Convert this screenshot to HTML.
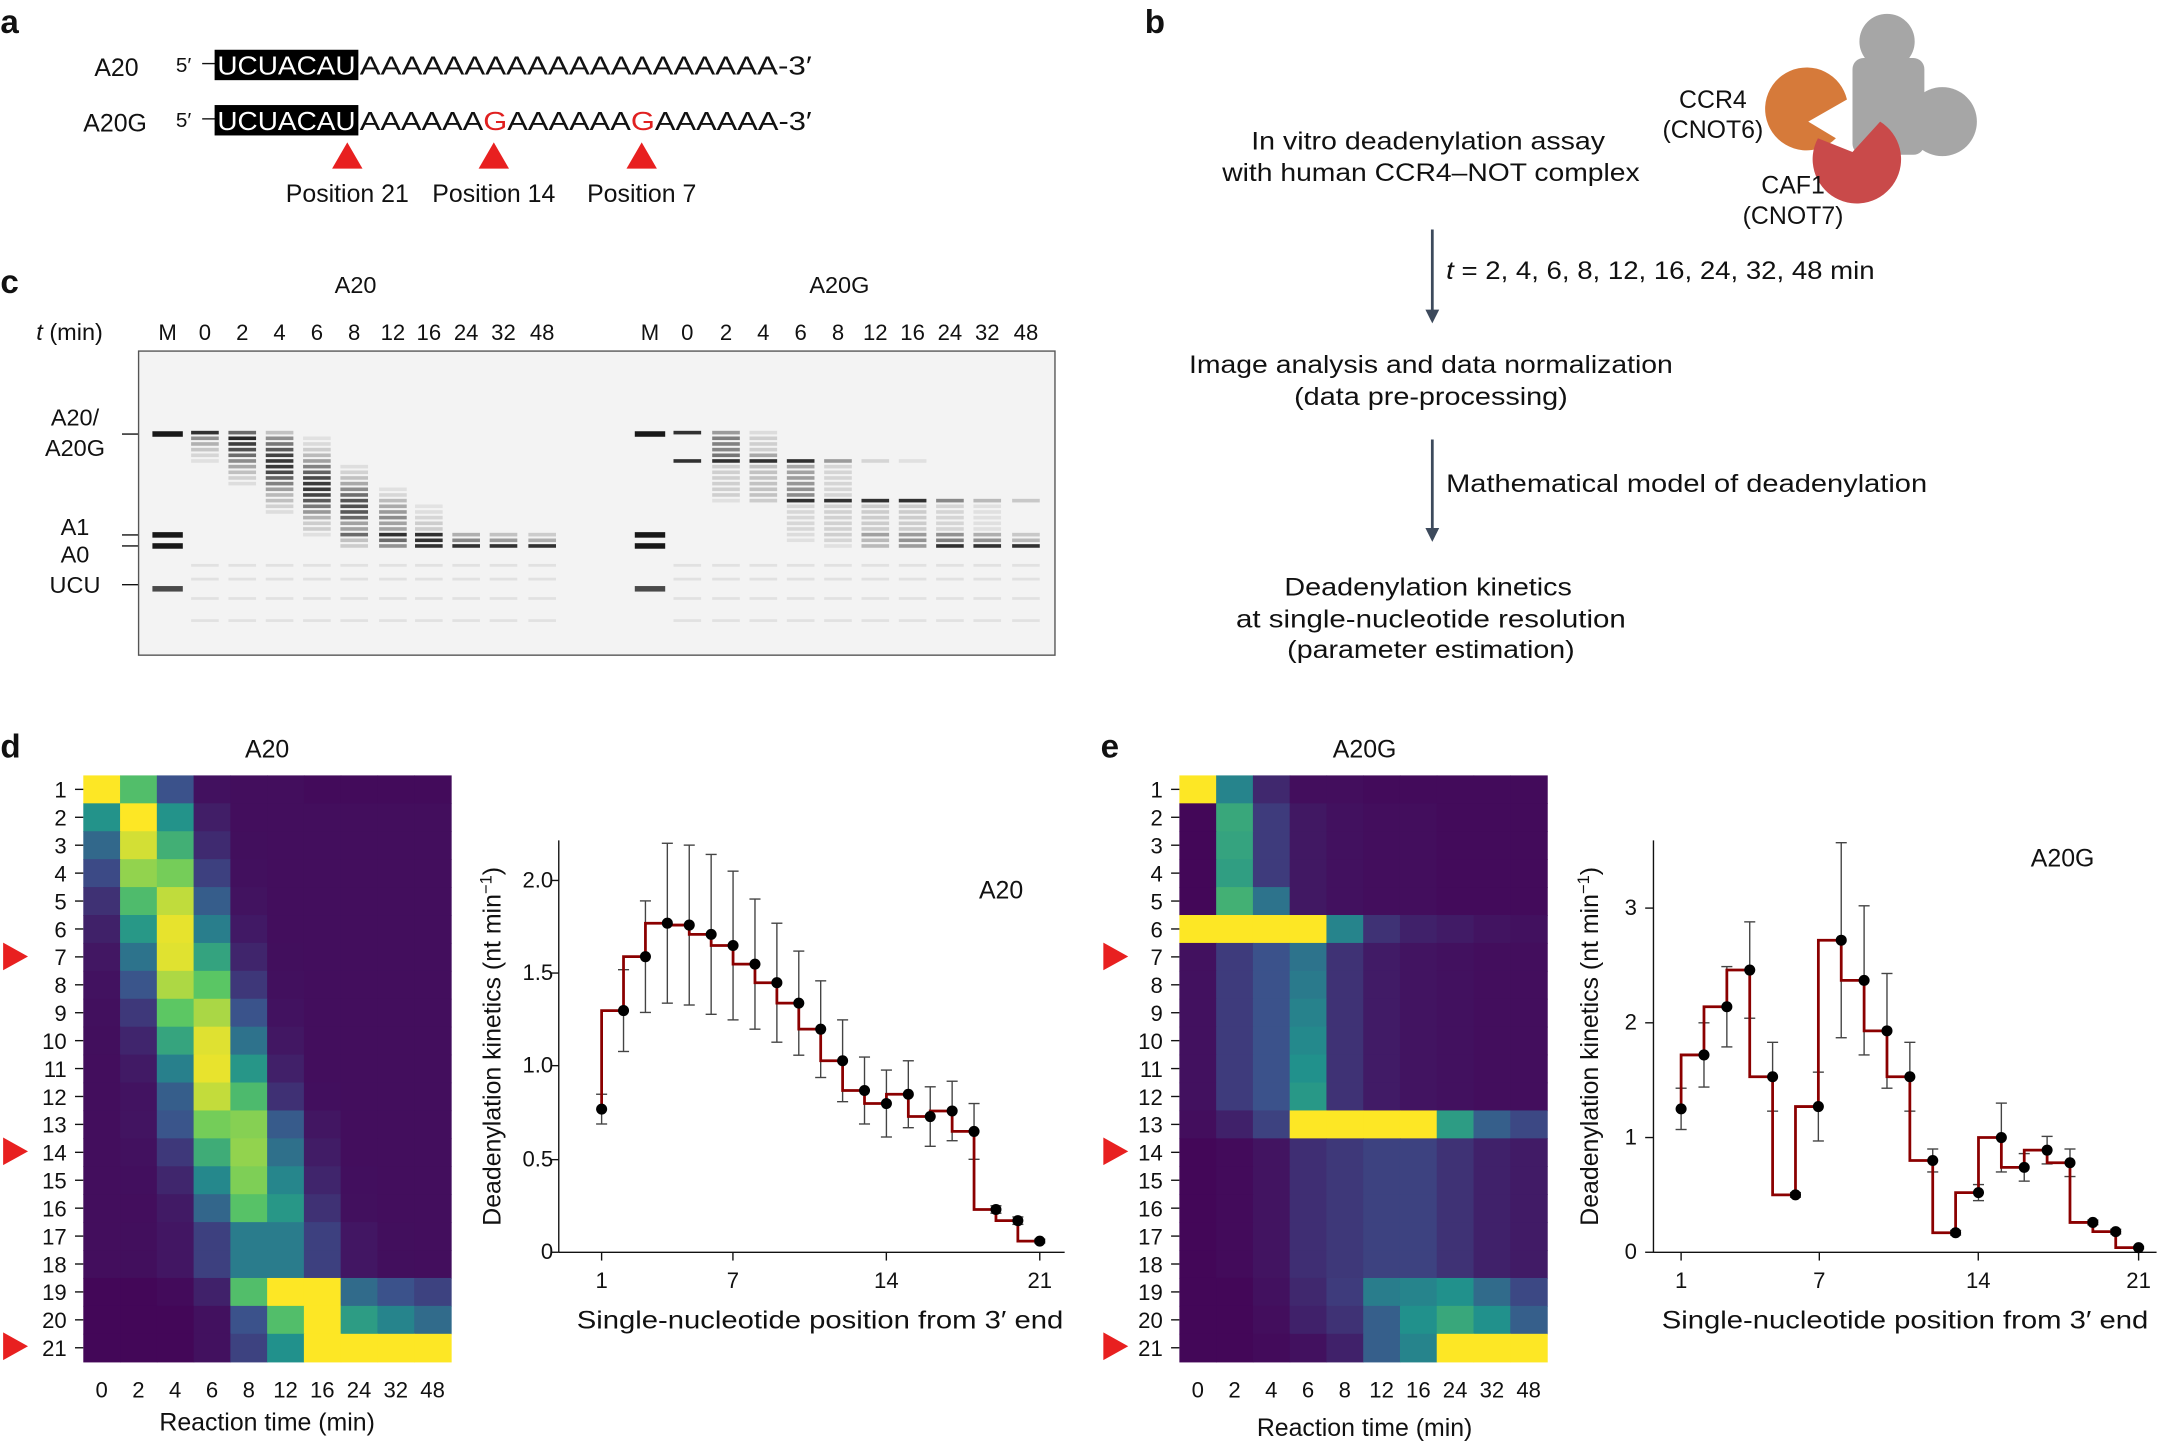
<!DOCTYPE html>
<html><head><meta charset="utf-8">
<style>
html,body{margin:0;padding:0;background:#fff;}
svg{display:block;font-family:"Liberation Sans",sans-serif;}
</style></head>
<body>
<svg id="s" width="2168" height="1443" viewBox="0 0 1568 1044" xmlns="http://www.w3.org/2000/svg">
<rect width="1568" height="1044" fill="#fff"/>
<!-- panel a -->
<g font-size="18" fill="#111">
<text x="0" y="24" font-size="24" font-weight="bold">a</text>
<text x="68" y="55">A20</text>
<text x="127" y="52" font-size="15">5′</text>
<line x1="146" y1="46" x2="156" y2="46" stroke="#111"/>
<rect x="155" y="36" width="104" height="22" fill="#000"/>
<text x="157" y="54" fill="#fff" font-size="19" textLength="100" lengthAdjust="spacingAndGlyphs">UCUACAU</text>
<text x="260" y="54" font-size="19" textLength="327" lengthAdjust="spacingAndGlyphs">AAAAAAAAAAAAAAAAAAAA-3′</text>
<text x="60" y="95">A20G</text>
<text x="127" y="92" font-size="15">5′</text>
<line x1="146" y1="86" x2="156" y2="86" stroke="#111"/>
<rect x="155" y="76" width="104" height="22" fill="#000"/>
<text x="157" y="94" fill="#fff" font-size="19" textLength="100" lengthAdjust="spacingAndGlyphs">UCUACAU</text>
<text x="260" y="94" font-size="19" textLength="327" lengthAdjust="spacingAndGlyphs">AAAAAA<tspan fill="#e02020">G</tspan>AAAAAA<tspan fill="#e02020">G</tspan>AAAAAA-3′</text>
<polygon points="240,122 262,122 251,103" fill="#e82020"/>
<polygon points="346,122 368,122 357,103" fill="#e82020"/>
<polygon points="453,122 475,122 464,103" fill="#e82020"/>
<text x="251" y="146" text-anchor="middle">Position 21</text>
<text x="357" y="146" text-anchor="middle">Position 14</text>
<text x="464" y="146" text-anchor="middle">Position 7</text>
</g>
<!-- panel b -->
<g font-size="18" fill="#111">
<text x="828" y="24" font-size="24" font-weight="bold">b</text>
<text x="1033" y="108" text-anchor="middle" textLength="256" lengthAdjust="spacingAndGlyphs">In vitro deadenylation assay</text>
<text x="1035" y="131" text-anchor="middle" textLength="302" lengthAdjust="spacingAndGlyphs">with human CCR4–NOT complex</text>
<text x="1239" y="78" text-anchor="middle">CCR4</text>
<text x="1239" y="100" text-anchor="middle">(CNOT6)</text>
<circle cx="1365" cy="30" r="20" fill="#a6a6a6"/>
<rect x="1340" y="42" width="52" height="70" rx="8" fill="#a6a6a6"/>
<circle cx="1405" cy="88" r="25" fill="#a6a6a6"/>
<path d="M1336,72 A30,30 0 1 0 1328,100 L1308,88 Z" fill="#d67a3a"/>
<path d="M1315,100 A32,32 0 1 0 1360,88 L1340,110 Z" fill="#c94a4a"/>
<text x="1297" y="140" text-anchor="middle">CAF1</text>
<text x="1297" y="162" text-anchor="middle">(CNOT7)</text>
<line x1="1036" y1="166" x2="1036" y2="226" stroke="#3d4a5c" stroke-width="2"/>
<polygon points="1031,224 1041,224 1036,234" fill="#3d4a5c"/>
<text x="1046" y="202" textLength="310" lengthAdjust="spacingAndGlyphs"><tspan font-style="italic">t</tspan> = 2, 4, 6, 8, 12, 16, 24, 32, 48 min</text>
<text x="1035" y="270" text-anchor="middle" textLength="350" lengthAdjust="spacingAndGlyphs">Image analysis and data normalization</text>
<text x="1035" y="293" text-anchor="middle" textLength="198" lengthAdjust="spacingAndGlyphs">(data pre-processing)</text>
<line x1="1036" y1="318" x2="1036" y2="384" stroke="#3d4a5c" stroke-width="2"/>
<polygon points="1031,382 1041,382 1036,392" fill="#3d4a5c"/>
<text x="1046" y="356" textLength="348" lengthAdjust="spacingAndGlyphs">Mathematical model of deadenylation</text>
<text x="1033" y="431" text-anchor="middle" textLength="208" lengthAdjust="spacingAndGlyphs">Deadenylation kinetics</text>
<text x="1035" y="454" text-anchor="middle" textLength="282" lengthAdjust="spacingAndGlyphs">at single-nucleotide resolution</text>
<text x="1035" y="476" text-anchor="middle" textLength="208" lengthAdjust="spacingAndGlyphs">(parameter estimation)</text>
</g>
<!-- panel c -->
<g font-size="17" fill="#111">
<text x="0" y="212" font-size="24" font-weight="bold">c</text>
<text x="257" y="212" text-anchor="middle">A20</text>
<text x="607" y="212" text-anchor="middle">A20G</text>
<text x="26" y="246"><tspan font-style="italic">t</tspan> (min)</text>
<g text-anchor="middle" font-size="16">
<text x="121" y="246">M</text><text x="148" y="246">0</text><text x="175" y="246">2</text><text x="202" y="246">4</text><text x="229" y="246">6</text><text x="256" y="246">8</text><text x="284" y="246">12</text><text x="310" y="246">16</text><text x="337" y="246">24</text><text x="364" y="246">32</text><text x="392" y="246">48</text>
<text x="470" y="246">M</text><text x="497" y="246">0</text><text x="525" y="246">2</text><text x="552" y="246">4</text><text x="579" y="246">6</text><text x="606" y="246">8</text><text x="633" y="246">12</text><text x="660" y="246">16</text><text x="687" y="246">24</text><text x="714" y="246">32</text><text x="742" y="246">48</text>
</g>
<text x="54" y="308" text-anchor="middle">A20/</text>
<text x="54" y="330" text-anchor="middle">A20G</text>
<text x="54" y="387" text-anchor="middle">A1</text>
<text x="54" y="407" text-anchor="middle">A0</text>
<text x="54" y="429" text-anchor="middle">UCU</text>
<g stroke="#111"><line x1="88" y1="314" x2="100" y2="314"/><line x1="88" y1="387" x2="100" y2="387"/><line x1="88" y1="395" x2="100" y2="395"/><line x1="88" y1="423" x2="100" y2="423"/></g>
<rect x="100" y="254" width="663" height="220" fill="#f3f3f3" stroke="#555" stroke-width="1"/>
<g id="gel"></g>
</g>
<!-- panel d -->
<g font-size="16" fill="#111">
<text x="0" y="548" font-size="24" font-weight="bold">d</text>
<text x="193" y="548" text-anchor="middle" font-size="18">A20</text>
<g id="hm1"></g>
<g id="rl1" text-anchor="end"></g>
<g text-anchor="middle" font-size="16" id="xl1"></g>
<text x="193" y="1035" text-anchor="middle" font-size="18">Reaction time (min)</text>
<polygon points="2,682 20,692 2,702" fill="#e82020"/>
<polygon points="2,823 20,833 2,843" fill="#e82020"/>
<polygon points="2,964 20,974 2,984" fill="#e82020"/>
</g>
<!-- panel e -->
<g font-size="16" fill="#111">
<text x="796" y="548" font-size="24" font-weight="bold">e</text>
<text x="987" y="548" text-anchor="middle" font-size="18">A20G</text>
<g id="hm2"></g>
<g id="rl2" text-anchor="end"></g>
<g text-anchor="middle" font-size="16" id="xl2"></g>
<text x="987" y="1039" text-anchor="middle" font-size="18">Reaction time (min)</text>
<polygon points="798,682 816,692 798,702" fill="#e82020"/>
<polygon points="798,823 816,833 798,843" fill="#e82020"/>
<polygon points="798,964 816,974 798,984" fill="#e82020"/>
</g>
<!-- line plots -->
<g font-size="16" fill="#111">
<text transform="translate(362,757) rotate(-90)" text-anchor="middle" font-size="18">Deadenylation kinetics (nt min<tspan baseline-shift="super" font-size="12">−1</tspan>)</text>
<text x="593" y="961" text-anchor="middle" font-size="18" textLength="352" lengthAdjust="spacingAndGlyphs">Single-nucleotide position from 3′ end</text>
<text x="724" y="650" text-anchor="middle" font-size="18">A20</text>
<g text-anchor="end"><text x="400" y="911">0</text><text x="400" y="844">0.5</text><text x="400" y="776">1.0</text><text x="400" y="709">1.5</text><text x="400" y="642">2.0</text></g>
<g text-anchor="middle"><text x="435" y="932">1</text><text x="530" y="932">7</text><text x="641" y="932">14</text><text x="752" y="932">21</text></g>
<g id="p1"></g>
<text transform="translate(1156,757) rotate(-90)" text-anchor="middle" font-size="18">Deadenylation kinetics (nt min<tspan baseline-shift="super" font-size="12">−1</tspan>)</text>
<text x="1378" y="961" text-anchor="middle" font-size="18" textLength="352" lengthAdjust="spacingAndGlyphs">Single-nucleotide position from 3′ end</text>
<text x="1492" y="627" text-anchor="middle" font-size="18">A20G</text>
<g text-anchor="end"><text x="1184" y="911">0</text><text x="1184" y="828">1</text><text x="1184" y="745">2</text><text x="1184" y="662">3</text></g>
<g text-anchor="middle"><text x="1216" y="932">1</text><text x="1316" y="932">7</text><text x="1431" y="932">14</text><text x="1547" y="932">21</text></g>
<g id="p2"></g>
</g>
<script>
var NS="http://www.w3.org/2000/svg";
function el(p,t,a){var e=document.createElementNS(NS,t);for(var k in a)e.setAttribute(k,a[k]);p.appendChild(e);return e;}
var stops=[[68,1,84],[59,82,139],[33,145,140],[94,201,98],[253,231,37]];
function vir(v){v=Math.max(0,Math.min(1,v));var f=v*4,i=Math.min(3,Math.floor(f)),t=f-i;var a=stops[i],b=stops[i+1];return "rgb("+[0,1,2].map(function(j){return Math.round(a[j]+(b[j]-a[j])*t)}).join(",")+")";}
function H1(r,c){
 if(r==1){return [1,0.7,0.25,0.05,0.04,0.04,0.03,0.03,0.03,0.03][c];}
 var p,w=1.15,m=1;
 if(r<=16){p=1+(r-2)*0.23;m=r==2?1:(r<=12?0.93:0.88-(r-13)*0.06);if(r>=13)w=1.3;}
 else if(r<=18){p=4.5;m=0.42;w=1.5;}
 else if(r==19){return [0.02,0.02,0.03,0.1,0.7,1,1,0.35,0.25,0.2][c];}
 else if(r==20){return [0.02,0.02,0.02,0.05,0.25,0.7,1,0.55,0.45,0.35][c];}
 else return [0.02,0.02,0.02,0.05,0.2,0.5,1,1,1,1][c];
 var d=(c-p)/w;return 0.04+m*Math.exp(-d*d);
}
function H2(r,c){
 if(r==1)return [1,0.45,0.12,0.04,0.04,0.03,0.03,0.03,0.03,0.03][c];
 if(r<=5)return [0.02,0.6-(r-2)*0.02+(r==5?0.1:0),0.18+(r==5?0.2:0),0.07,0.05,0.04,0.04,0.03,0.03,0.03][c];
 if(r==6)return [1,1,1,1,0.45,0.15,0.1,0.08,0.06,0.05][c];
 if(r<=12)return [0.05,0.18,0.25,0.38+(r-7)*0.03,0.15,0.08,0.06,0.05,0.04,0.04][c];
 if(r==13)return [0.04,0.1,0.2,1,1,1,1,0.55,0.3,0.22][c];
 if(r<=18)return [0.02,0.03,0.06,0.14,0.17,0.2,0.2,0.15,0.1,0.08][c];
 if(r==19)return [0.02,0.02,0.05,0.12,0.18,0.42,0.45,0.5,0.35,0.22][c];
 if(r==20)return [0.02,0.02,0.04,0.1,0.15,0.3,0.5,0.6,0.5,0.3][c];
 return [0.02,0.02,0.03,0.05,0.1,0.3,0.45,1,1,1][c];
}
var times=["0","2","4","6","8","12","16","24","32","48"];
function heat(id,rl,xl,x0,fn){
 var g=document.getElementById(id),cw=26.6,rh=20.2,y0=561;
 for(var r=1;r<=21;r++)for(var c=0;c<10;c++)el(g,"rect",{x:x0+c*cw,y:y0+(r-1)*rh,width:cw+0.5,height:rh+0.5,fill:vir(fn(r,c))});
 var L=document.getElementById(rl);
 for(var r=1;r<=21;r++){var t=el(L,"text",{x:x0-12,y:y0+(r-0.5)*rh+6});t.textContent=r;el(L,"line",{x1:x0-6,x2:x0,y1:y0+(r-0.5)*rh,y2:y0+(r-0.5)*rh,stroke:"#111"});}
 var X=document.getElementById(xl);
 for(var c=0;c<10;c++){var t=el(X,"text",{x:x0+(c+0.5)*cw,y:1011});t.textContent=times[c];}
}
heat("hm1","rl1","xl1",60,H1);
heat("hm2","rl2","xl2",853,H2);
var gel=document.getElementById("gel");
function lane(x,vals){for(var r=1;r<=21;r++){var v=vals(r);if(v<0.03)continue;el(gel,"rect",{x:x-10,y:313+(r-1)*4.1-1.3,width:20,height:2.6,fill:"#000",opacity:Math.min(0.9,v*0.8)});}
 [408,418,432,448].forEach(function(y){el(gel,"rect",{x:x-10,y:y,width:20,height:2,fill:"#000",opacity:0.07});});}
function marker(x){[[314,0.9],[387,0.9],[395,0.9],[426,0.7]].forEach(function(b){el(gel,"rect",{x:x-11,y:b[0]-2,width:22,height:4,fill:"#000",opacity:b[1]});});}
marker(121);marker(470);
var lx1=[148,175,202,229,256,284,310,337,364,392],lx2=[497,525,552,579,606,633,660,687,714,742];
for(var c=0;c<10;c++){(function(c){lane(lx1[c],function(r){return H1(r,c)>0.08?H1(r,c):0;});lane(lx2[c],function(r){return H2(r,c)>0.08?H2(r,c):0;});})(c);}
function plot(id,x0,dx,ybase,unit,vals,errs,xl,xr,ytop){
 var g=document.getElementById(id);
 el(g,"line",{x1:xl,x2:xl,y1:ytop,y2:ybase,stroke:"#111"});
 el(g,"line",{x1:xl,x2:xr,y1:ybase,y2:ybase,stroke:"#111"});
 var X=function(i){return x0+(i-1)*dx},Y=function(v){return ybase-v*unit};
 var d="M"+X(1)+","+Y(vals[0]);
 for(var i=2;i<=21;i++){d+=" L"+X(i-1)+","+Y(vals[i-1])+" L"+X(i)+","+Y(vals[i-1]);}
 for(var i=1;i<=21;i++){var x=X(i),e=errs[i-1];el(g,"line",{x1:x,x2:x,y1:Y(vals[i-1]+e),y2:Y(vals[i-1]-e),stroke:"#444","stroke-width":1});
  el(g,"line",{x1:x-4,x2:x+4,y1:Y(vals[i-1]+e),y2:Y(vals[i-1]+e),stroke:"#444"});el(g,"line",{x1:x-4,x2:x+4,y1:Y(vals[i-1]-e),y2:Y(vals[i-1]-e),stroke:"#444"});}
 el(g,"path",{d:d,fill:"none",stroke:"#8b0000","stroke-width":2});
 for(var i=1;i<=21;i++)el(g,"circle",{cx:X(i),cy:Y(vals[i-1]),r:4,fill:"#000"});
}
var v1=[0.77,1.30,1.59,1.77,1.76,1.71,1.65,1.55,1.45,1.34,1.20,1.03,0.87,0.80,0.85,0.73,0.76,0.65,0.23,0.17,0.06];
var e1=[0.08,0.22,0.3,0.43,0.43,0.43,0.4,0.35,0.32,0.28,0.26,0.22,0.18,0.18,0.18,0.16,0.16,0.15,0.02,0.02,0.01];
var v2=[1.25,1.72,2.14,2.46,1.53,0.50,1.27,2.72,2.37,1.93,1.53,0.80,0.17,0.52,1.00,0.74,0.89,0.78,0.26,0.18,0.04];
var e2=[0.18,0.28,0.35,0.42,0.3,0.02,0.3,0.85,0.65,0.5,0.3,0.1,0.02,0.07,0.3,0.12,0.12,0.12,0.02,0.02,0.01];
plot("p1",435,15.85,906,134.5,v1,e1,404,770,608);
plot("p2",1216,16.55,906,83,v2,e2,1196,1560,608);
var g1=document.getElementById("p1");[906,839,771,704,637].forEach(function(y){el(g1,"line",{x1:398,x2:404,y1:y,y2:y,stroke:"#111"});});
[435,530,641,752].forEach(function(x){el(g1,"line",{x1:x,x2:x,y1:906,y2:912,stroke:"#111"});});
var g2=document.getElementById("p2");[906,823,740,657].forEach(function(y){el(g2,"line",{x1:1190,x2:1196,y1:y,y2:y,stroke:"#111"});});
[1216,1316,1431,1547].forEach(function(x){el(g2,"line",{x1:x,x2:x,y1:906,y2:912,stroke:"#111"});});
</script>
</svg>
</body></html>
